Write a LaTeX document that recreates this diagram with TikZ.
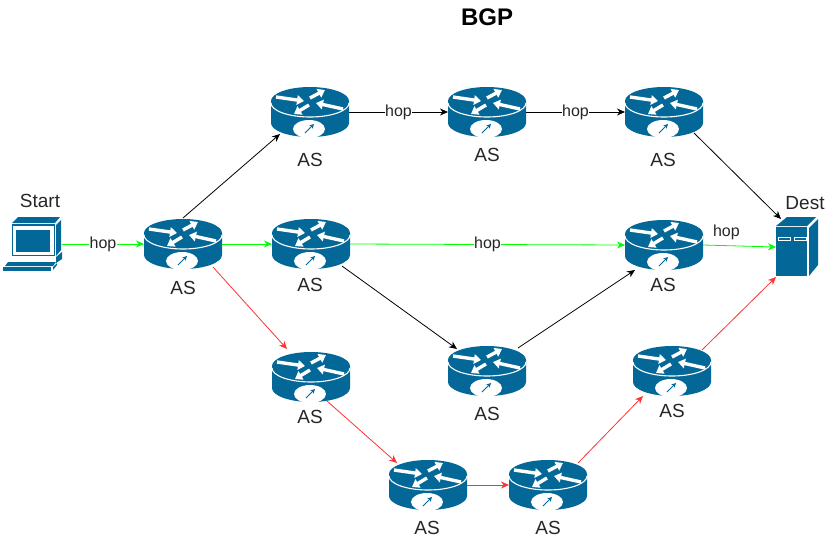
\documentclass[tikz,border=0pt]{standalone}
\usepackage{fontspec}
\setmainfont{Liberation Sans}
\usetikzlibrary{arrows.meta,positioning}
\definecolor{asblue}{RGB}{3,104,151}
\definecolor{hopgreen}{RGB}{0,255,0}
\definecolor{hopred}{RGB}{255,51,51}
\begin{document}
\begin{tikzpicture}[x=1pt, y=-1pt,
    every node/.style={font=\fontsize{19}{21}\selectfont, text=black!85},
    routerarrow/.style={white, line width=3.4pt, -{Triangle[width=9.5pt,length=7pt]}},
    routerbox/.style={rectangle, inner sep=0pt, outer sep=0pt, minimum width=78pt, minimum height=52pt,
        path picture={
            \begin{scope}[shift={(path picture bounding box.center)}]
                \fill[asblue] (-39,-11) -- (-39,11) arc[x radius=39, y radius=14, start angle=180, end angle=0] -- (39,-11) arc[x radius=39, y radius=14, start angle=0, end angle=-180] -- cycle;
                \draw[white, line width=1.1pt] (-39,-9) arc[x radius=39, y radius=14, start angle=180, end angle=0];
                \fill[white] (-1,17) ellipse[x radius=16, y radius=9];
                \draw[asblue, line width=0.9pt, -{Stealth[length=4.5pt,width=4.5pt]}] (-5,21) -- (4,12);
                \draw[routerarrow] (-34,-15) -- (-6,-11);
                \draw[routerarrow] (0,-14) -- (15,-22);
                \draw[routerarrow] (33,-3) -- (6,-9);
                \draw[routerarrow] (-1,-7) -- (-16,2);
            \end{scope}
        }},
    serverbox/.style={rectangle, inner sep=0pt, outer sep=0pt, minimum width=42pt, minimum height=60pt,
        path picture={
            \begin{scope}[shift={(path picture bounding box.center)}]
                \fill[asblue] (-21,-21) -- (-10,-30) -- (19,-30) -- (10,-21) -- cycle;
                \fill[asblue] (-21,-20) rectangle (10,29);
                \fill[asblue] (12,-19) -- (21,-28) -- (21,18) -- (12,29) -- cycle;
                \draw[white, line width=0.8pt] (-19,-10) rectangle (-7,-7);
                \draw[white, line width=0.8pt] (-3,-10) rectangle (9,-7);
            \end{scope}
        }},
    pcbox/.style={rectangle, inner sep=0pt, outer sep=0pt, minimum width=60pt, minimum height=54pt,
        path picture={
            \begin{scope}[shift={(path picture bounding box.center)}]
                \fill[asblue] (-20,-21) -- (-14,-27) -- (28,-27) -- (23,-21) -- cycle;
                \fill[asblue] (-20,-20) rectangle (23,12);
                \fill[white] (-19,-18) rectangle (22,11);
                \fill[asblue] (-16,-14) rectangle (18,8);
                \fill[asblue] (24,-19) -- (29,-24) -- (29,6) -- (24,12) -- cycle;
                \fill[asblue] (24,13) -- (30,8) -- (30,15) -- (24,19) -- cycle;
                \fill[asblue] (-24,18) -- (24,18) -- (21,22) -- (-27,22) -- cycle;
                \fill[asblue] (-29,23) rectangle (19,27);
                \fill[asblue] (21,23) -- (25,19) -- (25,21) -- (21,26) -- cycle;
            \end{scope}
        }},
    hoplabel/.style={fill=white, inner sep=0.5pt, font=\fontsize{16}{18}\selectfont},
    blackline/.style={->, >={Stealth[length=8pt,width=7pt]}, line width=0.8pt, black},
    greenline/.style={->, >={Stealth[length=8pt,width=7pt]}, line width=0.8pt, hopgreen},
    redline/.style={->, >={Stealth[length=8pt,width=7pt]}, line width=0.8pt, hopred}]
    \useasboundingbox (0,0) rectangle (836,542);

    % Title
    \node[font=\fontsize{24}{26}\selectfont\bfseries, text=black] (title) at (487,17) {BGP};

    % End points
    \node[pcbox] (start) at (32,244) {};
    \node (startlabel) at (40,201) {Start};
    \node[serverbox] (dest) at (797,247) {};
    \node (destlabel) at (805,203) {Dest};

    % Routers
    \node[routerbox] (first) at (183,244) {};
    \node[routerbox] (top1) at (310,112) {};
    \node[routerbox] (top2) at (487,112) {};
    \node[routerbox] (top3) at (664,112) {};
    \node[routerbox] (mid1) at (311,244) {};
    \node[routerbox] (mid2) at (664,245) {};
    \node[routerbox] (mid3) at (487,371) {};
    \node[routerbox] (low1) at (311,377) {};
    \node[routerbox] (low2) at (428,485) {};
    \node[routerbox] (low3) at (548,485) {};
    \node[routerbox] (low4) at (672,371) {};

    % Labels
    \node (firstlabel) at (183,288) {AS};
    \node (top1label) at (310,160) {AS};
    \node (top2label) at (487,155) {AS};
    \node (top3label) at (663,160) {AS};
    \node (mid1label) at (310,285) {AS};
    \node (mid2label) at (663,285) {AS};
    \node (mid3label) at (487,414) {AS};
    \node (low1label) at (310,417) {AS};
    \node (low2label) at (427,528) {AS};
    \node (low3label) at (548,528) {AS};
    \node (low4label) at (672,411) {AS};

    % Black paths
    \draw[blackline] (first.north) -- ([shift={(9,-4)}]top1.south west);
    \draw[blackline] (top1.east) to node[hoplabel] {hop} (top2.west);
    \draw[blackline] (top2.east) to node[hoplabel] {hop} (top3.west);
    \draw[blackline] ([shift={(-9,-5)}]top3.south east) -- ([shift={(-37,2)}]dest.north east);
    \draw[blackline] ([shift={(-8,-4)}]mid1.south east) -- ([shift={(9,4)}]mid3.north west);
    \draw[blackline] ([shift={(-8,3)}]mid3.north east) -- ([shift={(10,-1)}]mid2.south west);

    % Green path
    \draw[greenline] (start.east) to node[hoplabel] {hop} (first.west);
    \draw[greenline] (first.east) -- (mid1.west);
    \draw[greenline] (mid1.east) to node[hoplabel] {hop} (mid2.west);
    \draw[greenline] (mid2.east) to node[hoplabel, above=5pt, pos=0.32, fill=none] {hop} (dest.west);

    % Red path
    \draw[redline] ([shift={(-9,-3)}]first.south east) -- ([shift={(15,-2)}]low1.north west);
    \draw[redline] ([shift={(-23,-2)}]low1.south east) -- ([shift={(8,4)}]low2.north west);
    \draw[redline] (low2.east) -- (low3.west);
    \draw[redline] ([shift={(-9,4)}]low3.north east) -- ([shift={(10,-1)}]low4.south west);
    \draw[redline] ([shift={(-9,5)}]low4.north east) -- (dest.south west);
\end{tikzpicture}
\end{document}
